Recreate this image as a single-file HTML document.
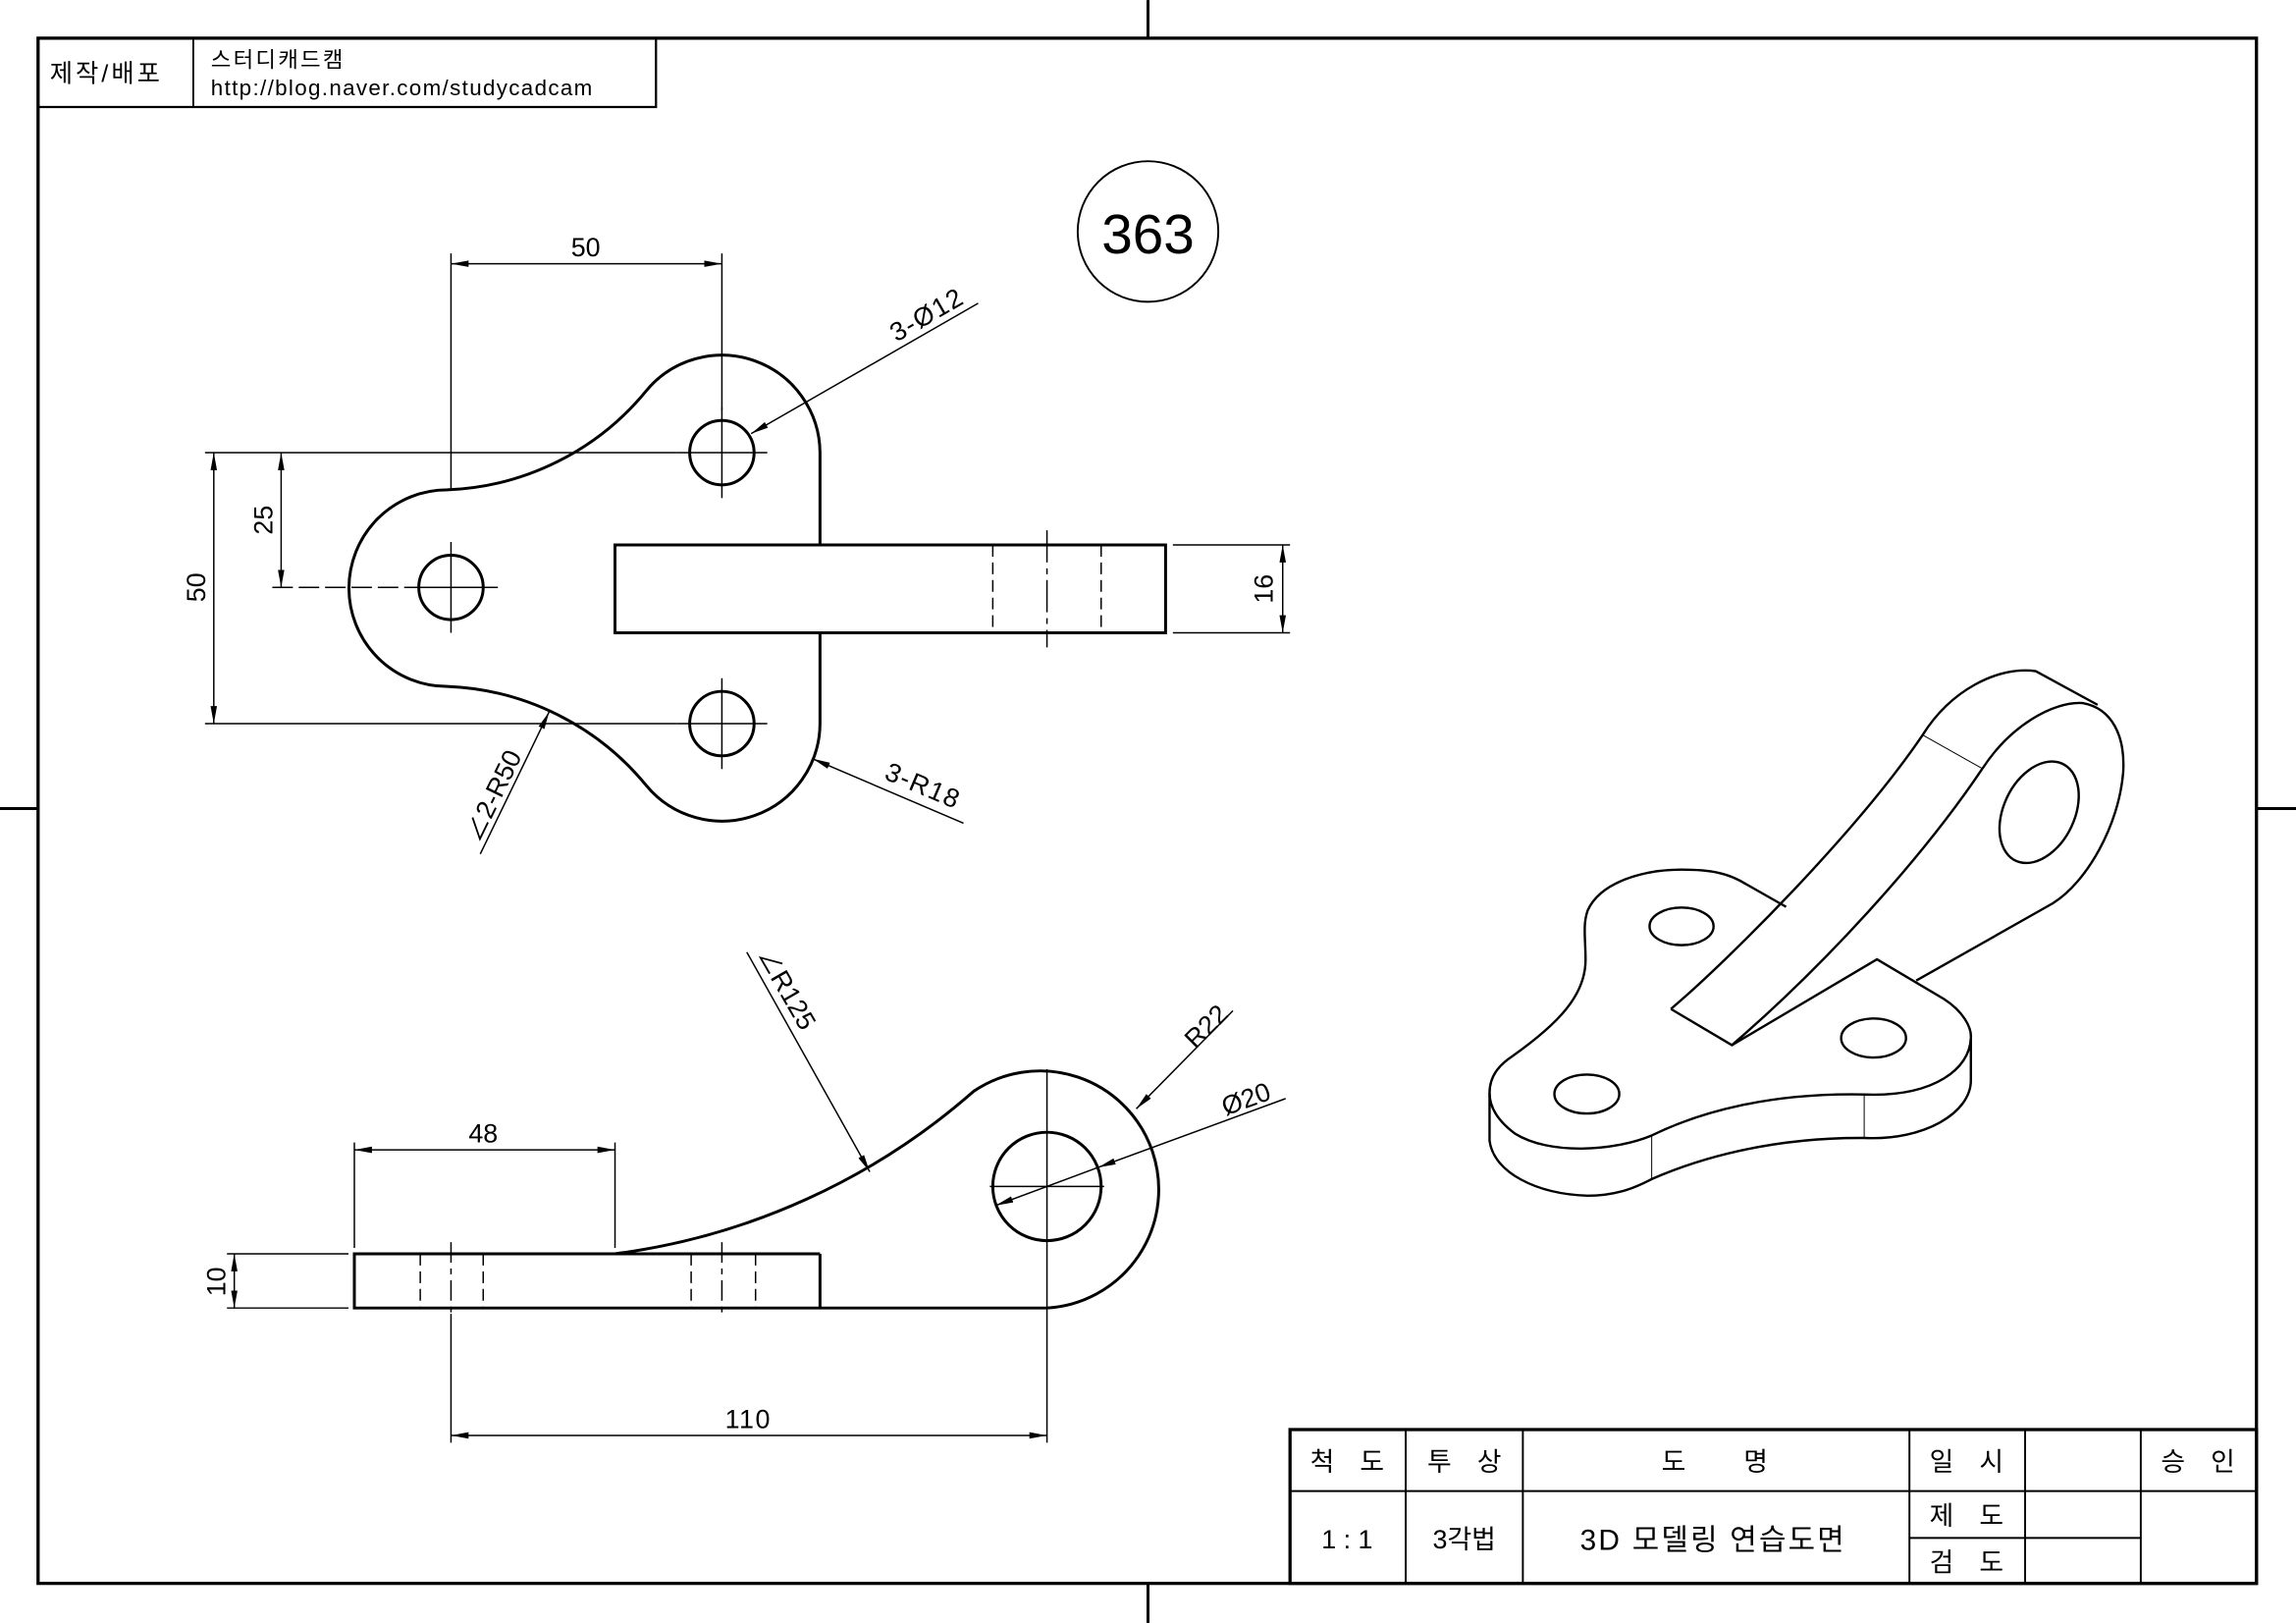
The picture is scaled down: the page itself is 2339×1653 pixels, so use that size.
<!DOCTYPE html>
<html><head><meta charset="utf-8"><style>
html,body{margin:0;padding:0;background:#fff;}
svg{display:block;}
text{font-family:"Liberation Sans","Noto Sans CJK KR",sans-serif;fill:#000;}
.iso *{vector-effect:non-scaling-stroke;}
</style></head><body>
<svg width="2339" height="1653" viewBox="0 0 1568 1108" xmlns="http://www.w3.org/2000/svg">
<defs>
<marker id="a" viewBox="0 0 12 6" refX="12" refY="3" markerWidth="12" markerHeight="6" markerUnits="userSpaceOnUse" orient="auto-start-reverse"><path d="M0,0.8 L12,3 L0,5.2 Z" fill="#000"/></marker>
</defs>
<rect width="1568" height="1108" fill="#fff"/>
<g stroke="#000" fill="none">
<rect x="26" y="26" width="1515" height="1055" stroke-width="2.2"/>
<line x1="784" y1="0" x2="784" y2="26" stroke-width="2"/>
<line x1="784" y1="1081" x2="784" y2="1108" stroke-width="2"/>
<line x1="0" y1="552" x2="26" y2="552" stroke-width="2"/>
<line x1="1541" y1="552" x2="1568" y2="552" stroke-width="2"/>
<rect x="26" y="26" width="422" height="47" stroke-width="1.5"/>
<line x1="132" y1="26" x2="132" y2="73" stroke-width="1.2"/>
<circle cx="784" cy="158" r="48" stroke-width="1.3"/>
</g>
<text x="34" y="56" font-size="17" letter-spacing="2">제작/배포</text>
<text x="144" y="46" font-size="15" letter-spacing="1.5">스터디캐드캠</text>
<text x="144" y="65" font-size="15" letter-spacing="0.9">http://blog.naver.com/studycadcam</text>
<text x="784" y="173" font-size="38" text-anchor="middle">363</text>

<!-- TOP VIEW -->
<g stroke="#000" fill="none" stroke-width="2">
<path d="M560,372 L560,309 A67,67 0 0 0 441.4,266.7 A185,185 0 0 1 305.4,334.4 A67,67 0 1 0 305.4,468.6 A185,185 0 0 1 441.4,536.3 A67,67 0 0 0 560,494 L560,432"/>
<rect x="420" y="372" width="376" height="60"/>
<circle cx="308" cy="401" r="22"/>
<circle cx="493" cy="309" r="22"/>
<circle cx="493" cy="494" r="22"/>
</g>
<g stroke="#000" fill="none" stroke-width="1">
<line x1="678" y1="372" x2="678" y2="432" stroke-dasharray="8,4"/>
<line x1="752" y1="372" x2="752" y2="432" stroke-dasharray="8,4"/>
<line x1="715" y1="362" x2="715" y2="442" stroke-dasharray="22,4,4,4"/>
<line x1="308" y1="370" x2="308" y2="432"/>
<line x1="276" y1="401" x2="340" y2="401"/>
<line x1="493" y1="278" x2="493" y2="340"/>
<line x1="462" y1="309" x2="524" y2="309"/>
<line x1="493" y1="463" x2="493" y2="525"/>
<line x1="462" y1="494" x2="524" y2="494"/>
<line x1="308" y1="173" x2="308" y2="335"/>
<line x1="493" y1="173" x2="493" y2="280"/>
<line x1="308" y1="180" x2="493" y2="180" marker-start="url(#a)" marker-end="url(#a)"/>
<line x1="140" y1="309" x2="462" y2="309"/>
<line x1="140" y1="494" x2="462" y2="494"/>
<line x1="186" y1="401" x2="276" y2="401" stroke-dasharray="14,4"/>
<line x1="146" y1="309" x2="146" y2="494" marker-start="url(#a)" marker-end="url(#a)"/>
<line x1="192" y1="309" x2="192" y2="401" marker-start="url(#a)" marker-end="url(#a)"/>
<line x1="801" y1="372" x2="881" y2="372"/>
<line x1="801" y1="432" x2="881" y2="432"/>
<line x1="876" y1="372" x2="876" y2="432" marker-start="url(#a)" marker-end="url(#a)"/>
<line x1="668" y1="207" x2="513" y2="296" marker-end="url(#a)"/>
<line x1="658" y1="562" x2="555" y2="518" marker-end="url(#a)"/>
<line x1="328" y1="583" x2="375" y2="486" marker-end="url(#a)"/>
</g>
<text x="400" y="175" font-size="18" text-anchor="middle">50</text>
<text transform="translate(140,401) rotate(-90)" font-size="18" text-anchor="middle">50</text>
<text transform="translate(186,355) rotate(-90)" font-size="18" text-anchor="middle">25</text>
<text transform="translate(869,402) rotate(-90)" font-size="18" text-anchor="middle">16</text>
<text transform="translate(636,220) rotate(-30)" font-size="18" text-anchor="middle" letter-spacing="1">3-Ø12</text>
<text transform="translate(628,542) rotate(23)" font-size="18" text-anchor="middle" letter-spacing="1">3-R18</text>
<text transform="translate(342,546) rotate(-64)" font-size="18" text-anchor="middle">∠2-R50</text>

<!-- FRONT VIEW -->
<g stroke="#000" fill="none" stroke-width="2">
<path d="M242,856 L420,856 A462,462 0 0 0 665,745 A81,81 0 1 1 715,893 L242,893 Z"/>
<line x1="420" y1="856" x2="560" y2="856"/>
<line x1="560" y1="856" x2="560" y2="893"/>
<circle cx="715" cy="810" r="37"/>
</g>
<g stroke="#000" fill="none" stroke-width="1">
<line x1="287" y1="856" x2="287" y2="893" stroke-dasharray="8,4"/>
<line x1="330" y1="856" x2="330" y2="893" stroke-dasharray="8,4"/>
<line x1="472" y1="856" x2="472" y2="893" stroke-dasharray="8,4"/>
<line x1="516" y1="856" x2="516" y2="893" stroke-dasharray="8,4"/>
<line x1="308" y1="848" x2="308" y2="900" stroke-dasharray="14,4,4,4"/>
<line x1="493" y1="848" x2="493" y2="900" stroke-dasharray="14,4,4,4"/>
<line x1="715" y1="730" x2="715" y2="985"/>
<line x1="676" y1="810" x2="754" y2="810"/>
<line x1="242" y1="780" x2="242" y2="852"/>
<line x1="420" y1="780" x2="420" y2="852"/>
<line x1="242" y1="785" x2="420" y2="785" marker-start="url(#a)" marker-end="url(#a)"/>
<line x1="155" y1="856" x2="238" y2="856"/>
<line x1="155" y1="893" x2="238" y2="893"/>
<line x1="160" y1="856" x2="160" y2="893" marker-start="url(#a)" marker-end="url(#a)"/>
<line x1="308" y1="897" x2="308" y2="985"/>
<line x1="308" y1="980" x2="715" y2="980" marker-start="url(#a)" marker-end="url(#a)"/>
<line x1="510" y1="650" x2="594" y2="800" marker-end="url(#a)"/>
<line x1="842" y1="690" x2="776" y2="757" marker-end="url(#a)"/>
<line x1="878" y1="750" x2="750" y2="797" marker-end="url(#a)"/>
<line x1="750" y1="797" x2="680" y2="823" marker-end="url(#a)"/>
</g>
<text x="330" y="780" font-size="18" text-anchor="middle">48</text>
<text x="511" y="975" font-size="18" text-anchor="middle" letter-spacing="1">110</text>
<text transform="translate(154,875) rotate(-90)" font-size="18" text-anchor="middle">10</text>
<text transform="translate(532,678) rotate(60)" font-size="18" text-anchor="middle">∠R125</text>
<text transform="translate(828,705) rotate(-45)" font-size="18" text-anchor="middle">R22</text>
<text transform="translate(853,756) rotate(-20)" font-size="18" text-anchor="middle">Ø20</text>

<!-- ISO VIEW -->
<g class="iso" transform="translate(1005.6,447.3) scale(0.2914,0.242)" stroke="#000" fill="none" stroke-width="2.4">
<path d="M40,1235 C40,1180 70,1150 95,1130 C200,1040 265,960 265,860 C265,800 258,760 270,720 C300,640 400,605 490,605 C560,605 600,615 640,645 L735,710"/>
<path d="M465,998 C600,860 900,500 1055,225 C1120,100 1230,30 1320,45 L1465,140"/>
<path d="M1195,320 C1260,200 1360,130 1430,135 C1500,150 1530,230 1525,330 C1515,480 1440,640 1360,700 L1040,918"/>
<path d="M1195,320 C1050,580 820,880 608,1100"/>
<path d="M465,998 L608,1100 L948,858 L1105,970 C1150,1005 1170,1050 1168,1080 C1165,1170 1080,1240 940,1240 C700,1230 530,1290 420,1355 C330,1400 180,1410 100,1350 C55,1310 40,1270 40,1235"/>
<path d="M40,1235 L40,1370 C50,1460 150,1520 270,1525 C350,1525 400,1490 420,1478 C530,1420 700,1360 918,1362 C1060,1370 1168,1290 1168,1200 L1168,1080"/>
<ellipse cx="1328" cy="443" rx="85" ry="148" transform="rotate(18 1328 443)"/>
<ellipse cx="490" cy="765" rx="75" ry="53"/>
<ellipse cx="940" cy="1080" rx="76" ry="55"/>
<ellipse cx="268" cy="1238" rx="76" ry="55"/>
<g stroke-width="1">
<line x1="1055" y1="225" x2="1195" y2="320"/>
<line x1="420" y1="1355" x2="420" y2="1478"/>
<line x1="918" y1="1240" x2="918" y2="1362"/>
</g>
</g>

<!-- TITLE BLOCK -->
<g stroke="#000" fill="none">
<rect x="881" y="976" width="660" height="105" stroke-width="2.2"/>
<line x1="881" y1="1018" x2="1541" y2="1018" stroke-width="1.3"/>
<line x1="960" y1="976" x2="960" y2="1081" stroke-width="1.3"/>
<line x1="1040" y1="976" x2="1040" y2="1081" stroke-width="1.3"/>
<line x1="1304" y1="976" x2="1304" y2="1081" stroke-width="1.3"/>
<line x1="1383" y1="976" x2="1383" y2="1081" stroke-width="1.3"/>
<line x1="1462" y1="976" x2="1462" y2="1081" stroke-width="1.3"/>
<line x1="1304" y1="1050" x2="1462" y2="1050" stroke-width="1.3"/>
</g>
<g font-size="18" text-anchor="middle">
<text x="903" y="1004">척</text><text x="937" y="1004">도</text>
<text x="983" y="1004">투</text><text x="1017" y="1004">상</text>
<text x="1143" y="1004">도</text><text x="1199" y="1004">명</text>
<text x="1326" y="1004">일</text><text x="1360" y="1004">시</text>
<text x="1484" y="1004">승</text><text x="1518" y="1004">인</text>
<text x="920" y="1057">1 : 1</text>
<text x="1000" y="1057">3각법</text>
<text x="1170" y="1058" font-size="20" letter-spacing="1.5">3D 모델링 연습도면</text>
<text x="1326" y="1041">제</text><text x="1360" y="1041">도</text>
<text x="1326" y="1073">검</text><text x="1360" y="1073">도</text>
</g>
</svg>
</body></html>
